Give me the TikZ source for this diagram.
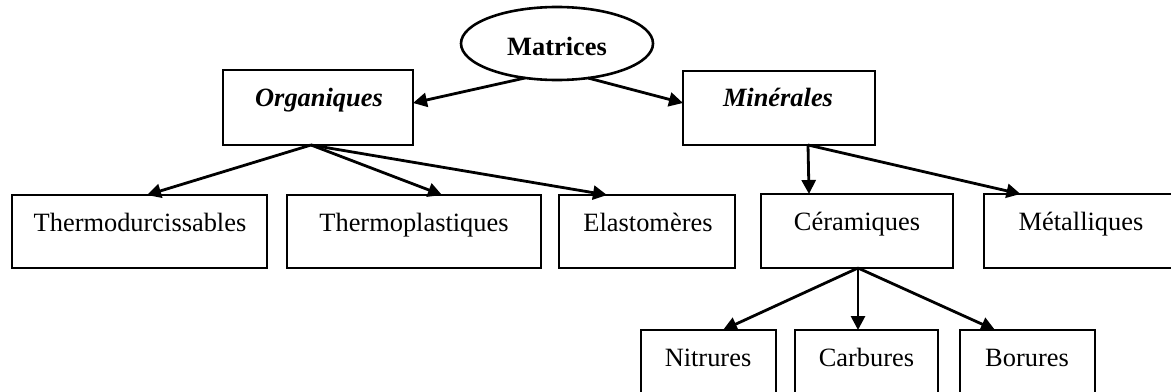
\documentclass[tikz,border=0pt]{standalone}
\usepackage{fontspec}
\setmainfont{Liberation Serif}
\usetikzlibrary{shapes.geometric,arrows.meta,calc}
\begin{document}
\begin{tikzpicture}[x=0.5pt,y=-0.5pt,
  every node/.style={inner sep=0pt,outer sep=0pt},
  boxnode/.style={draw,line width=1.3pt,rectangle},
  ellnode/.style={draw,line width=1.3pt,ellipse},
  lbl/.style={anchor=base,font=\fontsize{13.2pt}{15pt}\selectfont},
  lblb/.style={lbl,font=\fontsize{13.2pt}{15pt}\selectfont\bfseries},
  lblbi/.style={lbl,font=\fontsize{13.2pt}{15pt}\selectfont\bfseries\itshape},
  arr/.style={line width=1.4pt,-{Triangle[length=7pt,width=7pt]}}]
\useasboundingbox (0,0) rectangle (1171,391);
\clip (0,0) rectangle (1171,391);
% boxes
\node[ellnode,minimum width=96pt,minimum height=36.5pt] (M) at (557,43.5) {};
\node[boxnode,minimum width=95pt,minimum height=37.5pt] (Org) at (318,107.5) {};
\node[boxnode,minimum width=96pt,minimum height=37pt] (Min) at (779,108) {};
\node[boxnode,minimum width=127.5pt,minimum height=36.5pt] (Td) at (139.5,231.5) {};
\node[boxnode,minimum width=127pt,minimum height=36.5pt] (Tp) at (414,231.5) {};
\node[boxnode,minimum width=88pt,minimum height=36.5pt] (El) at (647,231.5) {};
\node[boxnode,minimum width=96pt,minimum height=37pt] (Cer) at (857,231) {};
\node[boxnode,minimum width=95.5pt,minimum height=37pt] (Met) at (1079.5,231) {};
\node[boxnode,minimum width=67.5pt,minimum height=33pt] (Nit) at (708.5,363) {};
\node[boxnode,minimum width=71.5pt,minimum height=33pt] (Car) at (866.5,363) {};
\node[boxnode,minimum width=67.5pt,minimum height=33pt] (Bor) at (1027.5,363) {};
% texts
\node[lblb] (Mt) at (557,55) {Matrices};
\node[lblbi] (Orgt) at (319,106) {Organiques};
\node[lblbi] (Mint) at (778,106) {Minérales};
\node[lbl] (Tdt) at (140,231) {Thermodurcissables};
\node[lbl] (Tpt) at (414,231) {Thermoplastiques};
\node[lbl] (Elt) at (648,231) {Elastomères};
\node[lbl] (Cert) at (857,230) {Céramiques};
\node[lbl] (Mett) at (1081,230) {Métalliques};
\node[lbl] (Nitt) at (708,366) {Nitrures};
\node[lbl] (Cart) at (866.5,366) {Carbures};
\node[lbl] (Bort) at (1027,366) {Borures};
% connectors
\draw[arr] ($(M.south)+(-32,-2)$) -- ($(Org.east)+(0,-4.5)$);
\draw[arr] ($(M.south)+(31,-2)$) -- ($(Min.west)+(0,-5)$);
\draw[arr] ($(Org.south)+(-7,0)$) -- ($(Td.north)+(7.5,0)$);
\draw[arr] ($(Org.south)+(-7,0)$) -- ($(Tp.north)+(28,0)$);
\draw[arr] ($(Org.south)+(-7,0)$) -- ($(El.north)+(-40,0)$);
\draw[arr] ($(Min.south)+(29,0)$) -- ($(Cer.north)+(-48,0)$);
\draw[arr] ($(Min.south)+(29,0)$) -- ($(Met.north)+(-59,0)$);
\draw[arr] ($(Cer.south)+(1,0)$) -- ($(Nit.north)+(14.5,0)$);
\draw[arr] ($(Cer.south)+(1,0)$) -- ($(Car.north)+(-8.5,0)$);
\draw[arr] ($(Cer.south)+(1,0)$) -- ($(Bor.north)+(-32.5,0)$);
\end{tikzpicture}
\end{document}
